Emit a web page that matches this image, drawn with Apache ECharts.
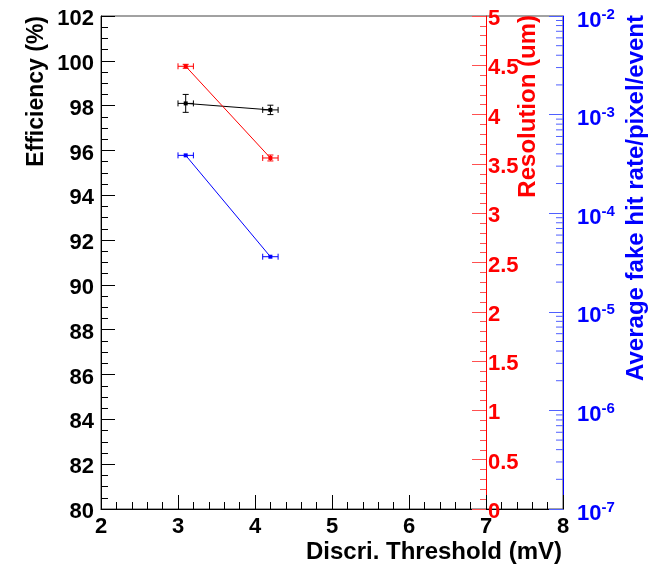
<!DOCTYPE html>
<html><head><meta charset="utf-8">
<script src="https://cdn.jsdelivr.net/npm/echarts@6/dist/echarts.min.js"></script>
<style>html,body{margin:0;padding:0;background:#fff}#c{width:651px;height:568px}</style>
</head><body><div id="c"></div>
<script>
// ---- data ----
const thresholds = [3.1, 4.2];          // Discri. Threshold (mV)
const thresholdErr = [0.1, 0.1];
const efficiency = [98.1, 97.81];       // %
const efficiencyErr = [0.4, 0.21];
const resolution = [4.49, 3.56];        // um
const resolutionErr = [0.02, 0.03];
const fakeRate = [3.86e-4, 3.62e-5];    // per pixel per event
const fakeRateErr = [0, 0];
const logMinorMultipliers = [2, 3, 4, 5, 6, 7, 8, 9];
const logDecades = [-7, -6, -5, -4, -3];

const FONT = 'Liberation Sans, Arial, Helvetica, sans-serif';

function pts(ys, xe, ye) { return thresholds.map((x, i) => [x, ys[i], xe[i], ye[i]]); }

function errRender(color) {
  return function (params, api) {
    const x = api.value(0), y = api.value(1), xe = api.value(2), ye = api.value(3);
    const c = api.coord([x, y]);
    const l = api.coord([x - xe, y]), r = api.coord([x + xe, y]);
    const st = { stroke: color, lineWidth: 1 };
    const ch = [
      { type: 'line', shape: { x1: l[0], y1: l[1], x2: r[0], y2: r[1] }, style: st },
      { type: 'line', shape: { x1: l[0], y1: l[1] - 3, x2: l[0], y2: l[1] + 3 }, style: st },
      { type: 'line', shape: { x1: r[0], y1: r[1] - 3, x2: r[0], y2: r[1] + 3 }, style: st }
    ];
    if (ye > 0) {
      const t = api.coord([x, y + ye]), b = api.coord([x, y - ye]);
      ch.push({ type: 'line', shape: { x1: t[0], y1: t[1], x2: b[0], y2: b[1] }, style: st });
      ch.push({ type: 'line', shape: { x1: t[0] - 3, y1: t[1], x2: t[0] + 3, y2: t[1] }, style: st });
      ch.push({ type: 'line', shape: { x1: b[0] - 3, y1: b[1], x2: b[0] + 3, y2: b[1] }, style: st });
    }
    ch.push({ type: 'rect', shape: { x: c[0] - 2, y: c[1] - 2, width: 4, height: 4 }, style: { fill: color } });
    return { type: 'group', children: ch };
  };
}

const minorVals = [];
logDecades.forEach(e => logMinorMultipliers.forEach(m => minorVals.push([8, m * Math.pow(10, e)])));

const chart = echarts.init(document.getElementById('c'), null, { renderer: 'canvas' });
chart.setOption({
  animation: false,
  backgroundColor: '#fff',
  grid: { left: 101, right: 88, top: 16, bottom: 59, show: true, borderColor: '#444', borderWidth: 1, backgroundColor: 'transparent' },
  xAxis: {
    type: 'value', min: 2, max: 8, interval: 1,
    axisLine: { show: true, onZero: false, lineStyle: { color: '#000', width: 1 } },
    axisTick: { show: true, inside: true, length: 14, lineStyle: { color: '#000' } },
    minorTick: { show: true, splitNumber: 5, length: 7, lineStyle: { color: '#000' } },
    splitLine: { show: false },
    axisLabel: { color: '#000', fontFamily: FONT, fontWeight: 'bold', fontSize: 22, margin: 7 }
  },
  yAxis: [
    {
      type: 'value', min: 80, max: 102, interval: 2, position: 'left',
      axisLine: { show: true, onZero: false, lineStyle: { color: '#000', width: 1 } },
      axisTick: { show: true, inside: true, length: 14, lineStyle: { color: '#000' } },
      minorTick: { show: true, splitNumber: 4, length: 7, lineStyle: { color: '#000' } },
      splitLine: { show: false },
      axisLabel: { margin: 7, formatter: v => '{a|' + v + '}',
        rich: { a: { color: '#000', fontFamily: FONT, fontWeight: 'bold', fontSize: 22, padding: [6, 0, 0, 0] } } }
    },
    {
      type: 'value', min: 0, max: 5, interval: 0.5, position: 'right', offset: -77,
      axisLine: { show: true, onZero: false, lineStyle: { color: '#ff0000', width: 1 } },
      axisTick: { show: true, inside: true, length: 14, lineStyle: { color: '#ff5050' } },
      minorTick: { show: true, splitNumber: 5, length: 6, lineStyle: { color: '#ff5050' } },
      splitLine: { show: false },
      axisLabel: { margin: 2, showMinLabel: true, showMaxLabel: true, formatter: v => '{a|' + v + '}',
        rich: { a: { color: '#ff0000', fontFamily: FONT, fontWeight: 'bold', fontSize: 22, padding: [6, 0, 0, 0] } } }
    },
    {
      type: 'log', logBase: 10, min: 1e-7, max: 1e-2, position: 'right',
      axisLine: { show: true, onZero: false, lineStyle: { color: '#0000ff', width: 1 } },
      axisTick: { show: true, inside: true, length: 14, lineStyle: { color: '#5060ff' } },
      splitLine: { show: false },
      axisLabel: {
        margin: 14,
        padding: [9, 0, 0, 0],
        formatter: v => '{b|10}{s|' + Math.round(Math.log10(v)) + '}',
        rich: {
          b: { color: '#0000ff', fontFamily: FONT, fontWeight: 'bold', fontSize: 22 },
          s: { color: '#0000ff', fontFamily: FONT, fontWeight: 'bold', fontSize: 15, verticalAlign: 'top', padding: [0, 0, 12, 0] }
        }
      }
    }
  ],
  graphic: [
    { type: 'text', x: 562, y: 552, style: { text: 'Discri. Threshold (mV)', fill: '#000', font: 'bold 24px ' + FONT, textAlign: 'right', textVerticalAlign: 'middle' } },
    { type: 'text', x: 37, y: 16, rotation: Math.PI / 2, style: { text: 'Efficiency (%)', fill: '#000', font: 'bold 23px ' + FONT, textAlign: 'right', textVerticalAlign: 'middle' } },
    { type: 'text', x: 528, y: 15, rotation: Math.PI / 2, style: { text: 'Resolution (um)', fill: '#ff0000', font: 'bold 24px ' + FONT, textAlign: 'right', textVerticalAlign: 'middle' } },
    { type: 'text', x: 636, y: 15, rotation: Math.PI / 2, style: { text: 'Average fake hit rate/pixel/event', fill: '#0000ff', font: 'bold 24px ' + FONT, textAlign: 'right', textVerticalAlign: 'middle' } }
  ],
  series: [
    { type: 'line', xAxisIndex: 0, yAxisIndex: 0, data: thresholds.map((x, i) => [x, efficiency[i]]), symbol: 'none', lineStyle: { color: '#000', width: 1 }, z: 3 },
    { type: 'custom', xAxisIndex: 0, yAxisIndex: 0, data: pts(efficiency, thresholdErr, efficiencyErr), renderItem: errRender('#000'), z: 4 },
    { type: 'line', xAxisIndex: 0, yAxisIndex: 1, data: thresholds.map((x, i) => [x, resolution[i]]), symbol: 'none', lineStyle: { color: '#ff0000', width: 1 }, z: 3 },
    { type: 'custom', xAxisIndex: 0, yAxisIndex: 1, data: pts(resolution, thresholdErr, resolutionErr), renderItem: errRender('#ff0000'), z: 4 },
    { type: 'line', xAxisIndex: 0, yAxisIndex: 2, data: thresholds.map((x, i) => [x, fakeRate[i]]), symbol: 'none', lineStyle: { color: '#0000ff', width: 1 }, z: 3 },
    { type: 'custom', xAxisIndex: 0, yAxisIndex: 2, data: pts(fakeRate, thresholdErr, fakeRateErr), renderItem: errRender('#0000ff'), z: 4 },
    { type: 'custom', xAxisIndex: 0, yAxisIndex: 2, data: minorVals, silent: true, clip: false,
      renderItem: function (params, api) {
        const p = api.coord([api.value(0), api.value(1)]);
        return { type: 'line', shape: { x1: p[0] - 7, y1: p[1], x2: p[0], y2: p[1] }, style: { stroke: '#5060ff', lineWidth: 1 } };
      }, z: 2 }
  ]
});
</script>
</body></html>
